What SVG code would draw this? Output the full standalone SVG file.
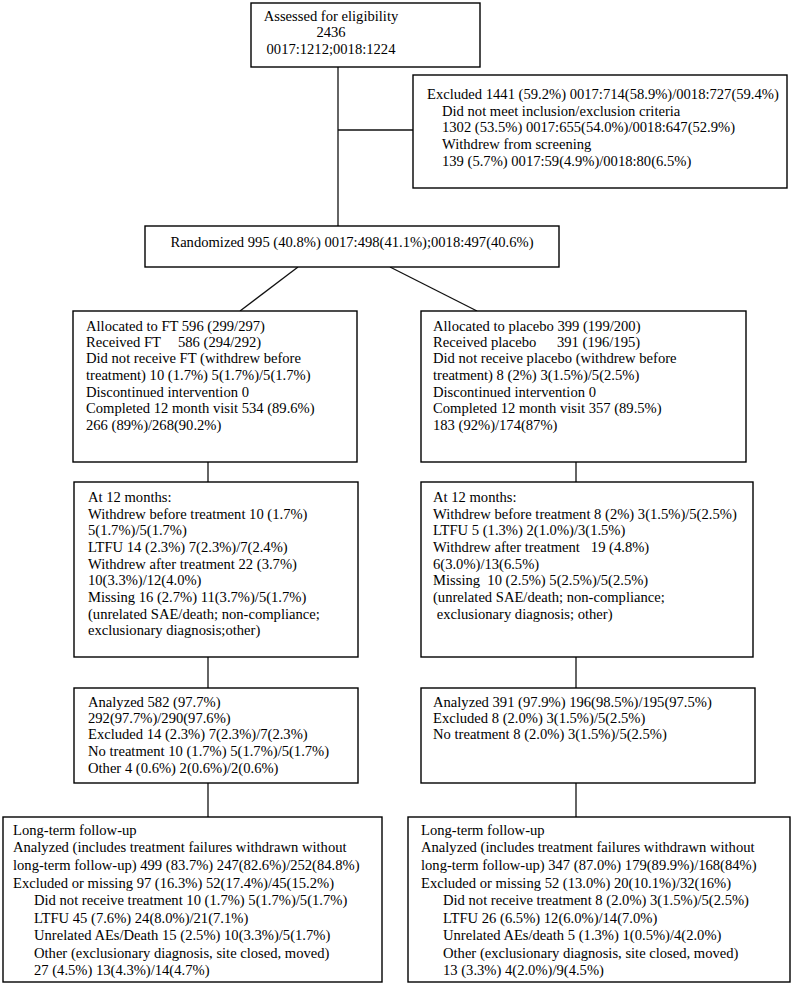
<svg xmlns="http://www.w3.org/2000/svg" width="798" height="985" viewBox="0 0 798 985">
<style>
.box{fill:#fff;stroke:#000;stroke-width:1.4}
.ln{stroke:#111;stroke-width:1.3;fill:none}
text{font-family:"Liberation Serif","Times New Roman",serif;font-size:14.6px;fill:#000;white-space:pre}
.c{text-anchor:middle}
</style>
<rect width="798" height="985" fill="#fff"/>
<g id="connectors">
<line class="ln" x1="338" y1="67" x2="338" y2="226"/>
<line class="ln" x1="338" y1="130" x2="413" y2="130"/>
<line class="ln" x1="298" y1="267" x2="240" y2="311"/>
<line class="ln" x1="390" y1="267" x2="477" y2="311"/>
<line class="ln" x1="208" y1="462" x2="208" y2="482"/>
<line class="ln" x1="576" y1="462" x2="576" y2="482"/>
<line class="ln" x1="208" y1="657" x2="208" y2="688"/>
<line class="ln" x1="576" y1="657" x2="576" y2="688"/>
<line class="ln" x1="208" y1="783" x2="208" y2="817"/>
<line class="ln" x1="576" y1="783" x2="576" y2="817"/>
</g>
<g id="assessed">
<rect class="box" x="251" y="3" width="229" height="64"/>
<text class="c" x="331" y="21">Assessed for eligibility</text>
<text class="c" x="331" y="37">2436</text>
<text class="c" x="331" y="54">0017:1212;0018:1224</text>
</g>
<g id="excluded">
<rect class="box" x="413" y="75" width="374" height="113"/>
<text x="427" y="99">Excluded 1441 (59.2%) 0017:714(58.9%)/0018:727(59.4%)</text>
<text x="442" y="116">Did not meet inclusion/exclusion criteria</text>
<text x="442" y="132">1302 (53.5%) 0017:655(54.0%)/0018:647(52.9%)</text>
<text x="442" y="149">Withdrew from screening</text>
<text x="442" y="166">139 (5.7%) 0017:59(4.9%)/0018:80(6.5%)</text>
</g>
<g id="randomized">
<rect class="box" x="145" y="226" width="414" height="41"/>
<text class="c" x="352" y="247">Randomized 995 (40.8%) 0017:498(41.1%);0018:497(40.6%)</text>
</g>
<g id="alloc-ft">
<rect class="box" x="73" y="311" width="284" height="151"/>
<text x="86" y="331">Allocated to FT 596 (299/297)</text>
<text x="86" y="347">Received FT</text>
<text x="178" y="347">586 (294/292)</text>
<text x="86" y="363">Did not receive FT (withdrew before</text>
<text x="86" y="380">treatment) 10 (1.7%) 5(1.7%)/5(1.7%)</text>
<text x="86" y="397">Discontinued intervention 0</text>
<text x="86" y="413">Completed 12 month visit 534 (89.6%)</text>
<text x="86" y="430">266 (89%)/268(90.2%)</text>
</g>
<g id="alloc-placebo">
<rect class="box" x="421" y="311" width="325" height="151"/>
<text x="433" y="331">Allocated to placebo 399 (199/200)</text>
<text x="433" y="347">Received placebo</text>
<text x="557" y="347">391 (196/195)</text>
<text x="433" y="363">Did not receive placebo (withdrew before</text>
<text x="433" y="380">treatment) 8 (2%) 3(1.5%)/5(2.5%)</text>
<text x="433" y="397">Discontinued intervention 0</text>
<text x="433" y="413">Completed 12 month visit 357 (89.5%)</text>
<text x="433" y="430">183 (92%)/174(87%)</text>
</g>
<g id="m12-ft">
<rect class="box" x="74" y="482" width="284" height="175"/>
<text x="88" y="502">At 12 months:</text>
<text x="88" y="519">Withdrew before treatment 10 (1.7%)</text>
<text x="88" y="535">5(1.7%)/5(1.7%)</text>
<text x="88" y="552">LTFU 14 (2.3%) 7(2.3%)/7(2.4%)</text>
<text x="88" y="569">Withdrew after treatment 22 (3.7%)</text>
<text x="88" y="585">10(3.3%)/12(4.0%)</text>
<text x="88" y="602">Missing 16 (2.7%) 11(3.7%)/5(1.7%)</text>
<text x="88" y="619">(unrelated SAE/death; non-compliance;</text>
<text x="88" y="635">exclusionary diagnosis;other)</text>
</g>
<g id="m12-placebo">
<rect class="box" x="421" y="482" width="332" height="175"/>
<text x="433" y="502">At 12 months:</text>
<text x="433" y="519">Withdrew before treatment 8 (2%) 3(1.5%)/5(2.5%)</text>
<text x="433" y="535">LTFU 5 (1.3%) 2(1.0%)/3(1.5%)</text>
<text x="433" y="552">Withdrew after treatment   19 (4.8%)</text>
<text x="433" y="569">6(3.0%)/13(6.5%)</text>
<text x="433" y="585">Missing  10 (2.5%) 5(2.5%)/5(2.5%)</text>
<text x="433" y="602">(unrelated SAE/death; non-compliance;</text>
<text x="433" y="619"> exclusionary diagnosis; other)</text>
</g>
<g id="analyzed-ft">
<rect class="box" x="74" y="688" width="284" height="95"/>
<text x="88" y="707">Analyzed 582 (97.7%)</text>
<text x="88" y="723">292(97.7%)/290(97.6%)</text>
<text x="88" y="739">Excluded 14 (2.3%) 7(2.3%)/7(2.3%)</text>
<text x="88" y="756">No treatment 10 (1.7%) 5(1.7%)/5(1.7%)</text>
<text x="88" y="773">Other 4 (0.6%) 2(0.6%)/2(0.6%)</text>
</g>
<g id="analyzed-placebo">
<rect class="box" x="421" y="688" width="334" height="95"/>
<text x="433" y="707">Analyzed 391 (97.9%) 196(98.5%)/195(97.5%)</text>
<text x="433" y="723">Excluded 8 (2.0%) 3(1.5%)/5(2.5%)</text>
<text x="433" y="739">No treatment 8 (2.0%) 3(1.5%)/5(2.5%)</text>
</g>
<g id="ltfu-ft">
<rect class="box" x="3" y="817" width="379" height="165"/>
<text x="13" y="835">Long-term follow-up</text>
<text x="13" y="852">Analyzed (includes treatment failures withdrawn without</text>
<text x="13" y="870">long-term follow-up) 499 (83.7%) 247(82.6%)/252(84.8%)</text>
<text x="13" y="888">Excluded or missing 97 (16.3%) 52(17.4%)/45(15.2%)</text>
<text x="34" y="905">Did not receive treatment 10 (1.7%) 5(1.7%)/5(1.7%)</text>
<text x="34" y="923">LTFU 45 (7.6%) 24(8.0%)/21(7.1%)</text>
<text x="34" y="940">Unrelated AEs/Death 15 (2.5%) 10(3.3%)/5(1.7%)</text>
<text x="34" y="958">Other (exclusionary diagnosis, site closed, moved)</text>
<text x="34" y="975">27 (4.5%) 13(4.3%)/14(4.7%)</text>
</g>
<g id="ltfu-placebo">
<rect class="box" x="408" y="817" width="382" height="165"/>
<text x="421" y="835">Long-term follow-up</text>
<text x="421" y="852">Analyzed (includes treatment failures withdrawn without</text>
<text x="421" y="870">long-term follow-up) 347 (87.0%) 179(89.9%)/168(84%)</text>
<text x="421" y="888">Excluded or missing 52 (13.0%) 20(10.1%)/32(16%)</text>
<text x="443" y="905">Did not receive treatment 8 (2.0%) 3(1.5%)/5(2.5%)</text>
<text x="443" y="923">LTFU 26 (6.5%) 12(6.0%)/14(7.0%)</text>
<text x="443" y="940">Unrelated AEs/death 5 (1.3%) 1(0.5%)/4(2.0%)</text>
<text x="443" y="958">Other (exclusionary diagnosis, site closed, moved)</text>
<text x="443" y="975">13 (3.3%) 4(2.0%)/9(4.5%)</text>
</g>
</svg>
